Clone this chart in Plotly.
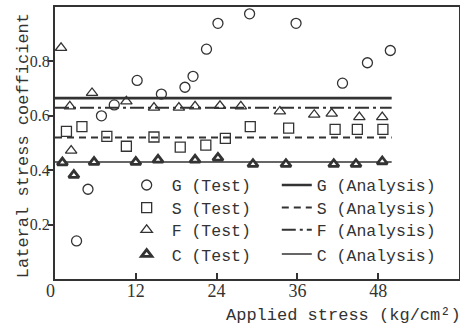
import plotly.graph_objects as go

# ---- data ----
g_test_x = [3.2, 4.9, 6.9, 8.8, 12.2, 15.8, 19.3, 20.5, 22.5, 24.2, 28.9, 35.8, 42.7, 46.4, 49.8]
g_test_y = [0.14, 0.33, 0.60, 0.64, 0.73, 0.68, 0.705, 0.745, 0.845, 0.94, 0.975, 0.94, 0.72, 0.795, 0.84]

s_test_x = [1.7, 4.0, 7.7, 10.6, 14.7, 18.6, 22.4, 25.3, 29.0, 34.7, 41.6, 44.9, 48.7]
s_test_y = [0.543, 0.56, 0.524, 0.488, 0.522, 0.485, 0.492, 0.517, 0.56, 0.555, 0.55, 0.55, 0.55]

f_test_x = [0.9, 2.2, 2.4, 5.5, 10.6, 14.7, 18.4, 20.8, 24.5, 27.6, 33.4, 38.5, 41.1, 45.2, 48.6]
f_test_y = [0.85, 0.635, 0.472, 0.684, 0.653, 0.63, 0.63, 0.635, 0.637, 0.635, 0.616, 0.604, 0.608, 0.595, 0.595]

c_test_x = [1.1, 2.8, 5.8, 12.0, 15.3, 20.8, 24.2, 29.4, 34.3, 41.4, 44.7, 48.6]
c_test_y = [0.428, 0.382, 0.43, 0.43, 0.438, 0.438, 0.445, 0.422, 0.422, 0.422, 0.422, 0.432]

analysis_x = [0, 50]
g_analysis = [0.665, 0.665]
s_analysis = [0.52, 0.52]
f_analysis = [0.63, 0.63]
c_analysis = [0.43, 0.43]

x_ticks = [0, 12, 24, 36, 48]
x_ticktext = ["0\u2002", "12", "24", "36", "48"]
y_ticks = [0.2, 0.4, 0.6, 0.8]
y_ticktext = ["0.2", "0.4", "0.6", "0.8"]

INK = "#333333"
MONO = "Liberation Mono, Courier New, monospace"
SERIF = "Liberation Serif, Times New Roman, serif"

# legend rows (paper y of each legend box top)
row_tops = [0.409, 0.326, 0.244, 0.155]

fig = go.Figure()

# analysis lines (drawn first, under markers)
fig.add_trace(go.Scatter(x=analysis_x, y=g_analysis, mode="lines", name="G (Analysis)",
                         line=dict(color=INK, width=2.6), legend="legend5"))
fig.add_trace(go.Scatter(x=analysis_x, y=s_analysis, mode="lines", name="S (Analysis)",
                         line=dict(color=INK, width=2, dash="7px,5px"), legend="legend6"))
fig.add_trace(go.Scatter(x=analysis_x, y=f_analysis, mode="lines", name="F (Analysis)",
                         line=dict(color=INK, width=2, dash="14px,4px,3px,4px"), legend="legend7"))
fig.add_trace(go.Scatter(x=analysis_x, y=c_analysis, mode="lines", name="C (Analysis)",
                         line=dict(color=INK, width=1.5), legend="legend8"))

# test markers
fig.add_trace(go.Scatter(x=g_test_x, y=g_test_y, mode="markers", name="G (Test)",
                         marker=dict(symbol="circle-open", size=10, color=INK, line=dict(width=1.3)),
                         legend="legend", showlegend=True))
fig.add_trace(go.Scatter(x=s_test_x, y=s_test_y, mode="markers", name="S (Test)",
                         marker=dict(symbol="square-open", size=10, color=INK, line=dict(width=1.3)),
                         legend="legend2"))
fig.add_trace(go.Scatter(x=f_test_x, y=f_test_y, mode="markers", name="F (Test)",
                         marker=dict(symbol="triangle-up-open", size=10, color=INK, line=dict(width=1.3)),
                         legend="legend3"))
fig.add_trace(go.Scatter(x=c_test_x, y=c_test_y, mode="markers", name="C (Test)",
                         marker=dict(symbol="triangle-up", size=9, color="white",
                                     line=dict(width=2.8, color=INK)),
                         legend="legend4"))

leg_font = dict(family=MONO, size=16.5, color=INK)
legends = {}
for i, top in enumerate(row_tops):
    legends["legend" if i == 0 else f"legend{i+1}"] = dict(
        x=0.165, y=top, xanchor="left", yanchor="top", itemwidth=40,
        bgcolor="rgba(0,0,0,0)", borderwidth=0, font=leg_font)
    legends[f"legend{i+5}"] = dict(
        x=0.549, y=top, xanchor="left", yanchor="top",
        bgcolor="rgba(0,0,0,0)", borderwidth=0, font=leg_font)

fig.update_layout(
    width=460, height=325,
    showlegend=True,
    margin=dict(l=55, r=1, t=7, b=46, autoexpand=False),
    paper_bgcolor="white", plot_bgcolor="white",
    font=dict(family=MONO, size=16, color=INK),
    xaxis=dict(range=[0, 60], tickvals=x_ticks, ticktext=x_ticktext,
               ticks="inside", ticklen=6, tickwidth=1.5, tickcolor=INK,
               showline=True, linecolor=INK, linewidth=2, mirror=True,
               showgrid=False, zeroline=False, automargin=False,
               ticklabelstandoff=-6,
               tickfont=dict(family=SERIF, size=18, color=INK)),
    yaxis=dict(range=[0, 1.0], tickvals=y_ticks, ticktext=y_ticktext,
               ticks="outside", ticklen=5, tickwidth=1.5, tickcolor=INK,
               showline=True, linecolor=INK, linewidth=2, mirror=True,
               showgrid=False, zeroline=False, automargin=False,
               ticklabelstandoff=-5,
               tickfont=dict(family=SERIF, size=16, color=INK)),
    annotations=[
        dict(text="Applied stress (kg/cm²)", xref="paper", yref="paper",
             x=1, y=0, xanchor="right", yanchor="middle", xshift=4, yshift=-36,
             showarrow=False, font=dict(family=MONO, size=17, color=INK)),
        dict(text="Lateral stress coefficient", xref="paper", yref="paper",
             x=0, y=0.49, xanchor="right", yanchor="middle", xshift=-20,
             textangle=-90, showarrow=False, font=dict(family=MONO, size=17, color=INK)),
    ],
    **legends,
)

fig.write_html("out.html", post_script="document.body.style.margin='0';",
               config={"displayModeBar": False})
